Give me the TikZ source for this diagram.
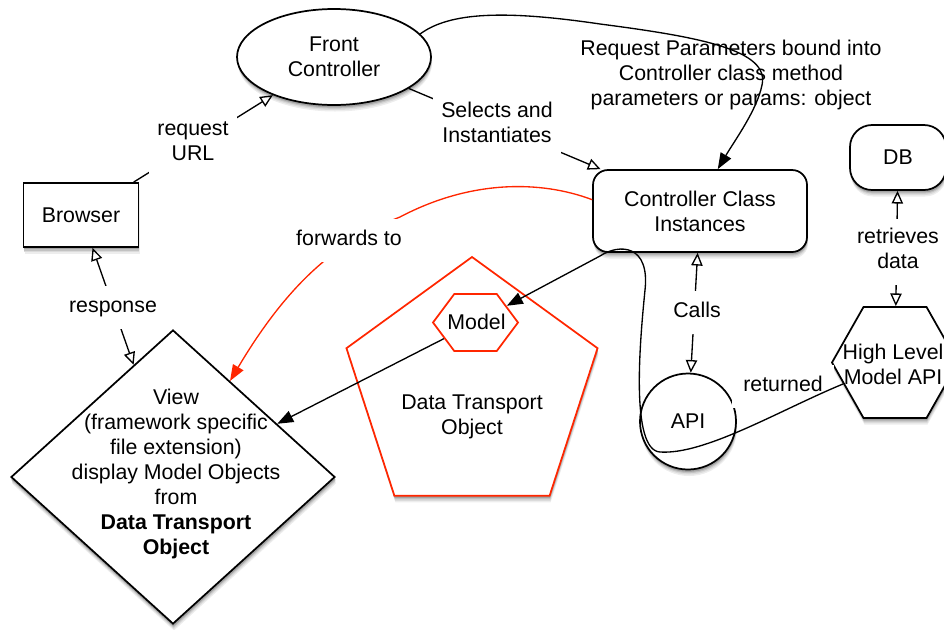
\documentclass[tikz,border=0pt]{standalone}
\usepackage{fontspec}
\setmainfont{Liberation Sans}
\usetikzlibrary{arrows.meta,shapes.geometric}
\newdimen\pxu
\pxu=0.75pt
\definecolor{alertred}{RGB}{255,38,0}
\definecolor{shadeA}{RGB}{237,237,237}
\definecolor{shadeB}{RGB}{219,219,219}
\definecolor{shadeC}{RGB}{194,194,194}
\definecolor{shadeD}{RGB}{163,163,163}

% outlines of all framed shapes, used for their drop shadows
\newcommand\shadowshapes[1]{%
  \fill[#1] (23.5,183) rectangle (138.5,247);
  \fill[#1] (334,57) ellipse [x radius=97, y radius=48];
  \fill[#1, rounded corners=15\pxu] (593,170) rectangle (807,252);
  \fill[#1, rounded corners=22\pxu] (850,125) rectangle (946,190);
  \fill[#1] (688,421.5) circle [radius=48];
  \fill[#1] (173,330) -- (335,477) -- (173,624) -- (11,477) -- cycle;
  \fill[#1] (472,257) -- (597.5,348.2) -- (549.6,495.8) -- (394.4,495.8) -- (346.5,348.2) -- cycle;
  \fill[#1] (832,362.5) -- (863.5,307) -- (926.5,307) -- (958,362.5) -- (926.5,418) -- (863.5,418) -- cycle;
}

\tikzset{
  otip/.tip={Triangle[open,length=9.5pt,width=8.5pt]},
  ftip/.tip={Triangle[length=12pt,width=9pt]},
  part/.style={draw, line width=1.3pt, fill=white, inner sep=0pt, align=center},
  redpart/.style={draw=alertred, line width=1.3pt, fill=white, inner sep=0pt, align=center},
  conn/.style={line width=1pt},
  redconn/.style={line width=1pt, draw=alertred},
  lbl/.style={fill=white, inner xsep=6pt, inner ysep=6.75pt, align=center,
    execute at begin node=\strut, execute at end node=\strut},
  plain/.style={inner sep=0pt, align=center},
}

\begin{document}
\begin{tikzpicture}[x=0.75pt,y=-0.75pt,font=\fontsize{16}{18.75}\selectfont]
\useasboundingbox (0,0) rectangle (944,629);

% soft drop shadows, drawn first so the shapes sit on top of them
\begin{scope}[shift={(1,6.5)}]\shadowshapes{shadeA}\end{scope}
\begin{scope}[shift={(0.8,5)}]\shadowshapes{shadeB}\end{scope}
\begin{scope}[shift={(0.6,3.6)}]\shadowshapes{shadeC}\end{scope}
\begin{scope}[shift={(0.4,2.4)}]\shadowshapes{shadeD}\end{scope}

% transport object with the model inside
\node[redpart, regular polygon, regular polygon sides=5, minimum size=264\pxu] (dto) at (472,389) {};
\node[plain] (dtotext) at (472,416.5) {Data Transport\\Object};
\begin{scope}[shift={(475.5,322.5)}, xscale=1.2917]
  \node[redpart, regular polygon, regular polygon sides=6, minimum size=65.8\pxu, transform shape] (model) at (0,0) {};
\end{scope}
\node[plain] (modeltext) at (476.5,322) {Model};

% view
\node[part, diamond, minimum width=324\pxu, minimum height=294\pxu] (view) at (173,477) {};
\node[plain] (viewtext) at (176,474) {View\\(framework specific\\file extension)\\display Model Objects\\from\\\textbf{Data Transport}\\\textbf{Object}};

% request handling components
\node[part, ellipse, minimum width=194\pxu, minimum height=96\pxu] (fc) at (334,57) {Front\\Controller};
\node[part, rectangle, minimum width=115\pxu, minimum height=64\pxu] (browser) at (81,215) {Browser};
\node[part, rectangle, rounded corners=15\pxu, minimum width=214\pxu, minimum height=82\pxu] (cci) at (700,211) {Controller Class\\Instances};
\node[part, rectangle, rounded corners=22\pxu, minimum width=96\pxu, minimum height=65\pxu] (db) at (898,157.5) {DB};
\node[part, circle, minimum size=96\pxu] (api) at (688,421.5) {API};
\begin{scope}[shift={(895,362.5)}, xscale=0.983]
  \node[part, regular polygon, regular polygon sides=6, minimum size=128.2\pxu, transform shape] (hlma) at (0,0) {};
\end{scope}
\node[plain] (hlmatext) at (893,364) {High Level\\Model API};

% request flow
\draw[conn, -otip] (browser) -- (fc);
\draw[conn, -otip] (fc) -- (cci);
\draw[conn, otip-otip] (view) -- (browser);
\draw[conn, otip-otip] (api) -- (cci);
\draw[conn, otip-otip] (hlma) -- (db);
\draw[conn, -ftip] (model) -- (view);

\node[plain] (bindlbl) at (731,75) {Request Parameters bound into\\Controller class method\\parameters or params: object};
\draw[conn, -ftip] (fc.15) .. controls (450,12) and (505,10) .. (600,24)
  .. controls (700,37) and (770,50) .. (762,85)
  .. controls (757,110) and (735,140) .. (cci.67);

\draw[redconn, -ftip] (cci.174) .. controls (540,180) and (470,180) .. (400,217)
  .. controls (340,240) and (290,280) .. (view);

% data returned from the model API back to the transport object
\node[lbl, minimum width=102\pxu] (retlbl) at (783,386) {returned};
\draw[conn, -ftip] (hlma) .. controls (780,410) and (705,455) .. (660,452)
  .. controls (630,450) and (640,340) .. (645,290)
  .. controls (650,245) and (620,243) .. (600,256) -- (model);

% connector labels
\node[lbl] (reqlbl) at (193,145) {request\\URL};
\node[lbl] (resplbl) at (113,307) {response};
\node[lbl] (sellbl) at (497,126) {Selects and\\Instantiates};
\node[lbl] (fwdlbl) at (349,240) {forwards to};
\node[lbl] (callslbl) at (697,312) {Calls};
\node[lbl] (retrlbl) at (898,252) {retrieves\\data};
\end{tikzpicture}
\end{document}
